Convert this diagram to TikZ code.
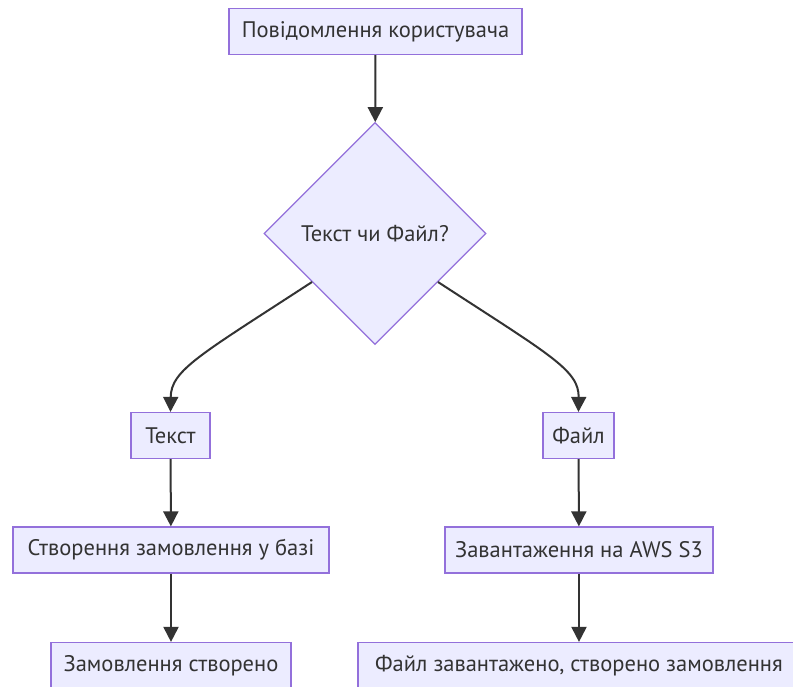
\documentclass[tikz,border=0pt]{standalone}
\usepackage{fontspec}
\setmainfont{PT Sans}
\usetikzlibrary{shapes.geometric,arrows.meta}
\definecolor{boxfill}{HTML}{ECECFF}
\definecolor{boxline}{HTML}{9370DB}
\definecolor{ink}{HTML}{333333}
\begin{document}
\begin{tikzpicture}[x=1pt,y=-1pt,
  box/.style={draw=boxline,fill=boxfill,line width=1.2pt,inner sep=0pt,minimum height=46pt,text=ink,font=\fontsize{22.5}{26}\selectfont},
  dec/.style={diamond,draw=boxline,fill=boxfill,line width=1.2pt,inner sep=0pt,minimum width=222pt,minimum height=222pt,aspect=1,text=ink,font=\fontsize{22.5}{26}\selectfont},
  conn/.style={draw=ink,line width=2pt,-{Triangle[length=15pt,width=15pt]}}]
\clip (0,0) rectangle (793,686);
\fill[white] (0,0) rectangle (793,686);
\node[box,minimum width=293pt] (msg) at (375.5,31.5) {Повідомлення користувача};
\node[dec] (q) at (375,233.5) {Текст чи Файл?};
\node[box,minimum width=79pt] (txt) at (170.5,435.5) {Текст};
\node[box,minimum width=71pt] (fil) at (578.5,435.5) {Файл};
\node[box,minimum width=316pt] (db) at (171,550) {Створення замовлення у базі};
\node[box,minimum width=268pt] (s3) at (579,550) {Завантаження на AWS S3};
\node[box,minimum width=240pt] (done1) at (171,665.5) {Замовлення створено};
\node[box,minimum width=442pt] (done2) at (579,665.5) {Файл завантажено, створено замовлення};
\coordinate (ql) at (312,282);
\coordinate (qr) at (438,282);
\draw[conn] (msg) -- (q);
\draw[conn] (ql) .. controls (200,355) and (171,370) .. (txt.north);
\draw[conn] (qr) .. controls (550,355) and (579,370) .. (fil.north);
\draw[conn] (txt) -- (db);
\draw[conn] (fil) -- (s3);
\draw[conn] (db) -- (done1);
\draw[conn] (s3) -- (done2);
\end{tikzpicture}
\end{document}
